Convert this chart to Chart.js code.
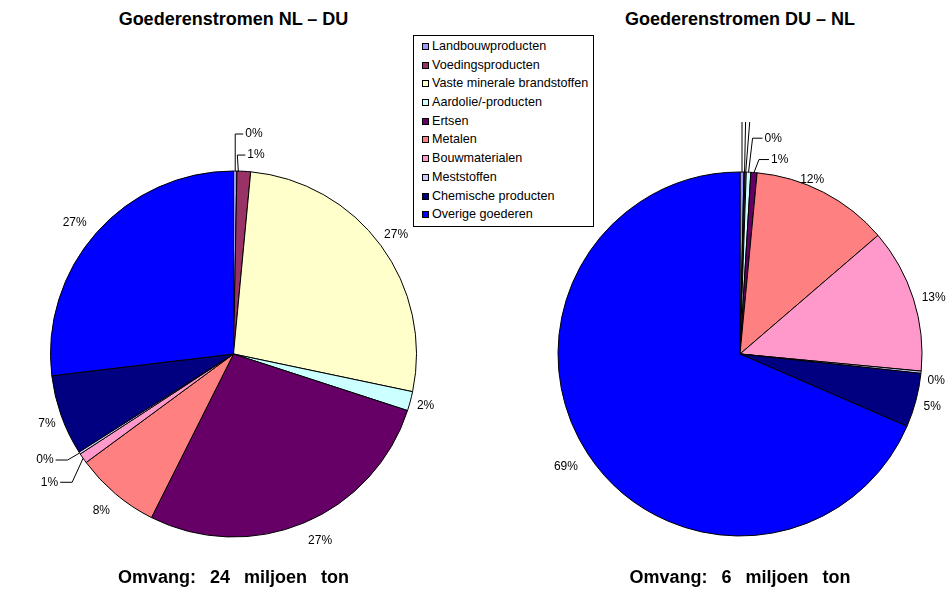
<!DOCTYPE html>
<html>
<head>
<meta charset="utf-8">
<script src="https://cdn.jsdelivr.net/npm/chart.js@4"></script>
<style>
  html, body { margin: 0; padding: 0; background: #fff; }
  body { width: 949px; height: 594px; position: relative; overflow: hidden; font-family: Arial, "Liberation Sans", sans-serif; }
  canvas { position: absolute; top: 0; }
  .title, .footer { position: absolute; text-align: center; font-weight: bold; font-size: 18px; line-height: 18px; color: #000; white-space: pre; }
  .footer { word-spacing: 9px; }
  #legend { position: absolute; left: 413px; top: 35px; width: 181px; height: 192px; box-sizing: border-box; border: 1px solid #000; background: #fff; padding-top: 1px; }
  #legend div { height: 18.7px; line-height: 18.7px; font-size: 12.6px; color: #000; white-space: nowrap; }
  #legend span { display: inline-block; width: 7px; height: 7px; box-sizing: border-box; border: 1px solid #000; margin: 0 3px 0 8px; vertical-align: 0px; }
</style>
</head>
<body>
<div class="title" style="left:0;width:467px;top:10px">Goederenstromen NL – DU</div>
<div class="title" style="left:532px;width:416px;top:10px">Goederenstromen DU – NL</div>
<canvas id="pieLeft" width="467" height="594" style="left:0"></canvas>
<canvas id="pieRight" width="416" height="594" style="left:532px"></canvas>
<div id="legend"></div>
<div class="footer" style="left:0;width:467px;top:568px">Omvang: 24 miljoen ton</div>
<div class="footer" style="left:532px;width:416px;top:568px">Omvang: 6 miljoen ton</div>

<script>
const categories = ['Landbouwproducten', 'Voedingsproducten', 'Vaste minerale brandstoffen',
  'Aardolie/-producten', 'Ertsen', 'Metalen', 'Bouwmaterialen', 'Meststoffen',
  'Chemische producten', 'Overige goederen'];

// aandeel in procenten
const nlDu = [0.3, 1.2, 26.8, 1.7, 27.4, 7.5, 0.9, 0.2, 7.1, 26.9];
const duNl = [0.35, 0.1, 0.1, 0.4, 0.55, 12.2, 12.8, 0.2, 4.8, 68.5];

const colors = ['#9999FF', '#993366', '#FFFFCC', '#CCFFFF', '#660066',
  '#FF8080', '#FF99CC', '#CCCCFF', '#000080', '#0000FF'];

// legenda
const legendEl = document.getElementById('legend');
categories.forEach((c, i) => {
  const row = document.createElement('div');
  const sw = document.createElement('span');
  sw.style.background = colors[i];
  row.appendChild(sw);
  row.appendChild(document.createTextNode(c));
  legendEl.appendChild(row);
});

// percentages buiten de taart, met verbindingslijnen voor kleine stukken
const pctLabels = {
  id: 'pctLabels',
  afterDatasetsDraw(chart, args, opts) {
    const ctx = chart.ctx;
    const meta = chart.getDatasetMeta(0);
    const data = chart.data.datasets[0].data;
    const total = data.reduce((a, b) => a + b, 0);
    ctx.save();
    ctx.font = '12px Arial, "Liberation Sans"';
    ctx.fillStyle = '#000';
    ctx.strokeStyle = '#000';
    ctx.lineWidth = 1;
    meta.data.forEach((arc, i) => {
      const p = arc.getProps(['x', 'y', 'startAngle', 'endAngle', 'outerRadius'], true);
      const text = Math.round(data[i] / total * 100) + '%';
      const lead = (opts.leaders || {})[i];
      if (lead) {
        const t = lead.t === undefined ? 0.5 : lead.t;
        const a = p.startAngle + (p.endAngle - p.startAngle) * t;
        const x0 = p.x + Math.cos(a) * p.outerRadius;
        const y0 = p.y + Math.sin(a) * p.outerRadius;
        const x1 = x0 + lead.dx, y1 = y0 + lead.dy, x2 = x1 + lead.arm;
        ctx.beginPath();
        ctx.moveTo(x0, y0);
        ctx.lineTo(x1, y1);
        ctx.lineTo(x2, y1);
        ctx.stroke();
        if (!lead.hide) {
          ctx.textAlign = lead.arm < 0 ? 'right' : 'left';
          ctx.textBaseline = 'middle';
          ctx.fillText(text, x2 + (lead.arm < 0 ? -2 : 2), y1);
        }
      } else {
        const a = (p.startAngle + p.endAngle) / 2;
        const w = ctx.measureText(text).width;
        const off = 6 + Math.abs(Math.cos(a)) * w / 2 + Math.abs(Math.sin(a)) * 5.5;
        const n = (opts.nudge || {})[i] || [0, 0];
        ctx.textAlign = 'center';
        ctx.textBaseline = 'middle';
        ctx.fillText(text, p.x + Math.cos(a) * (p.outerRadius + off) + n[0],
          p.y + Math.sin(a) * (p.outerRadius + off) + n[1]);
      }
    });
    ctx.restore();
  }
};

function makePie(id, values, radius, labelOpts) {
  return new Chart(document.getElementById(id), {
    type: 'pie',
    data: {
      labels: categories,
      datasets: [{
        data: values,
        backgroundColor: colors,
        borderColor: '#000',
        borderWidth: 1
      }]
    },
    options: {
      responsive: false,
      animation: false,
      radius: radius,
      layout: { padding: { top: 170, bottom: 56 } },
      plugins: {
        legend: { display: false },
        tooltip: { enabled: false },
        pctLabels: labelOpts
      }
    },
    plugins: [pctLabels]
  });
}

makePie('pieLeft', nlDu, 183, {
  leaders: {
    0: { t: 0.5, dx: 0, dy: -37, arm: 8 },
    1: { t: 0.1, dx: -1, dy: -16, arm: 8 },
    6: { dx: -11, dy: 24, arm: -12 },
    7: { dx: -12, dy: 7, arm: -12 }
  },
  nudge: { 4: [10, 3], 5: [-4, 5], 8: [1, 3], 9: [-8, 3] }
});

makePie('pieRight', duNl, 182, {
  leaders: {
    0: { dx: 0, dy: -50, arm: 0, hide: true },
    1: { dx: 1, dy: -50, arm: 0, hide: true },
    2: { dx: 4, dy: -50, arm: 0, hide: true },
    3: { dx: 4, dy: -34, arm: 10 },
    4: { dx: 5, dy: -13, arm: 10 }
  },
  nudge: { 5: [-19, 2], 6: [2, 5], 7: [0, 7], 8: [1, 2], 9: [-6, 2] }
});
</script>
</body>
</html>
